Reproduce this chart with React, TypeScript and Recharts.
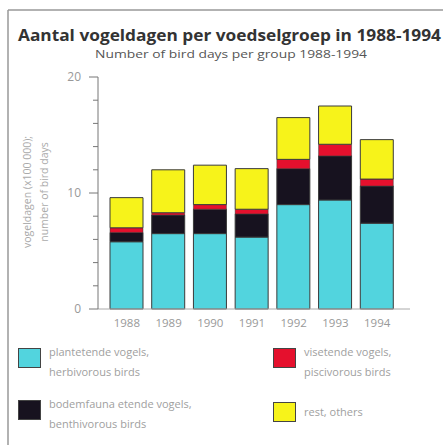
import { BarChart, Bar, XAxis, YAxis } from 'recharts';

const years = ['1988', '1989', '1990', '1991', '1992', '1993', '1994'];
const herbivorous = [5.8, 6.5, 6.5, 6.2, 9.0, 9.4, 7.4];
const benthivorous = [0.8, 1.6, 2.1, 2.0, 3.1, 3.8, 3.2];
const piscivorous = [0.4, 0.2, 0.4, 0.4, 0.8, 1.0, 0.6];
const others = [2.6, 3.7, 3.4, 3.5, 3.6, 3.3, 3.4];
const yTicks = [0, 2, 4, 6, 8, 10, 12, 14, 16, 18, 20];

const data = years.map((year, i) => ({
  year,
  herb: herbivorous[i],
  benth: benthivorous[i],
  pisc: piscivorous[i],
  rest: others[i],
}));

const CYAN = '#52d4de';
const BLACK = '#17121f';
const RED = '#e5102d';
const YELLOW = '#f7f31a';
const FONT = '"Open Sans", "Noto Sans", sans-serif';

const legendItems = [
  { color: CYAN, lines: ['plantetende vogels,', 'herbivorous birds'], left: 18, top: 348 },
  { color: RED, lines: ['visetende vogels,', 'piscivorous birds'], left: 273, top: 348 },
  { color: BLACK, lines: ['bodemfauna etende vogels,', 'benthivorous birds'], left: 18, top: 400 },
  { color: YELLOW, lines: ['rest, others'], left: 273, top: 402 },
];

function YTick(props: any) {
  const { x, y, payload } = props;
  const major = payload.value % 10 === 0;
  return (
    <g>
      <line x1={x - (major ? 9 : 5)} x2={x} y1={y} y2={y} stroke="#777" strokeWidth={1} />
      {major && (
        <text x={x - 17} y={y} dy="0.35em" textAnchor="end" fontSize={12} fill="#999" fontFamily={FONT}>
          {payload.value}
        </text>
      )}
    </g>
  );
}

function YLabel() {
  const cx = 36;
  const cy = 192;
  return (
    <text transform={`rotate(-90 ${cx} ${cy})`} x={cx} y={cy} textAnchor="middle" fontSize={10.5} fill="#aaa" fontFamily={FONT}>
      <tspan x={cx} dy="-0.45em">vogeldagen (x100 000);</tspan>
      <tspan x={cx} dy="1.6em">number of bird days</tspan>
    </text>
  );
}

export default function App() {
  return (
    <div style={{ position: 'absolute', left: 0, top: 0, width: 443, height: 445, background: '#fff', fontFamily: FONT }}>
      <BarChart width={443} height={445} data={data} margin={{ top: 77, right: 33, left: 8, bottom: 106 }} barSize={33}>
        <XAxis
          dataKey="year"
          height={30}
          padding={{ left: 8, right: 12 }}
          axisLine={{ stroke: '#aaa' }}
          tickLine={false}
          tickSize={0}
          tickMargin={10}
          tick={{ fill: '#999', fontSize: 11.5, fontFamily: FONT }}
        />
        <YAxis
          width={90}
          domain={[0, 20]}
          ticks={yTicks}
          interval={0}
          axisLine={{ stroke: '#777' }}
          tickLine={false}
          tickSize={0}
          tickMargin={0}
          tick={<YTick />}
          label={<YLabel />}
        />
        <Bar dataKey="herb" stackId="a" fill={CYAN} stroke="#3a3a3a" strokeWidth={1} isAnimationActive={false} />
        <Bar dataKey="benth" stackId="a" fill={BLACK} stroke="#3a3a3a" strokeWidth={1} isAnimationActive={false} />
        <Bar dataKey="pisc" stackId="a" fill={RED} stroke="#3a3a3a" strokeWidth={0.5} isAnimationActive={false} />
        <Bar dataKey="rest" stackId="a" fill={YELLOW} stroke="#3a3a3a" strokeWidth={1} isAnimationActive={false} />
      </BarChart>

      <svg width={443} height={445} style={{ position: 'absolute', left: 0, top: 0, pointerEvents: 'none' }}>
        <line x1={8} x2={443} y1={10} y2={10} stroke="#999" strokeWidth={1.5} />
        <line x1={8} x2={8} y1={10} y2={445} stroke="#999" strokeWidth={1.5} />
        <text x={18} y={41} fontSize={16} fontWeight={700} fill="#333" fontFamily={FONT} textLength={423} lengthAdjust="spacingAndGlyphs">
          Aantal vogeldagen per voedselgroep in 1988-1994
        </text>
        <text x={95} y={58} fontSize={10.5} fill="#555" fontFamily={FONT} textLength={272} lengthAdjust="spacingAndGlyphs">
          Number of bird days per group 1988-1994
        </text>
      </svg>

      {legendItems.map((item) => (
        <div key={item.lines[0]} style={{ position: 'absolute', left: item.left, top: item.top, display: 'flex', alignItems: 'flex-start' }}>
          <div style={{ width: 23, height: 20, background: item.color, border: '1px solid #444', boxSizing: 'border-box' }} />
          <div style={{ marginLeft: 8, marginTop: item.lines.length > 1 ? -6 : 0, fontSize: 11, lineHeight: '20px', color: '#a0a0a0', whiteSpace: 'nowrap' }}>
            {item.lines.map((l) => (
              <div key={l}>{l}</div>
            ))}
          </div>
        </div>
      ))}
    </div>
  );
}
